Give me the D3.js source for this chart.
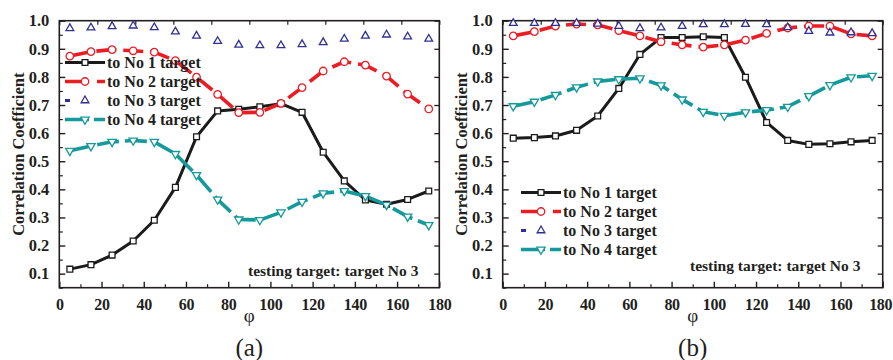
<!DOCTYPE html>
<html>
<head>
<meta charset="utf-8">
<script src="https://cdn.jsdelivr.net/npm/d3@7"></script>
<style>
  body { margin: 0; background: #fff; }
  svg { display: block; }
  text { font-family: "Liberation Serif", "Times New Roman", serif; fill: #231f20; }
</style>
</head>
<body>
<svg id="chart" width="893" height="360"></svg>
<script>
// Rotation angle (degrees) at which correlations were sampled
const phi = [5, 15, 25, 35, 45, 55, 65, 75, 85, 95, 105, 115, 125, 135, 145, 155, 165, 175];

// Panel (a)
const aTarget1 = [0.116, 0.132, 0.166, 0.216, 0.290, 0.407, 0.587, 0.679, 0.685, 0.694, 0.705, 0.674, 0.532, 0.430, 0.362, 0.347, 0.364, 0.394];
const aTarget2 = [0.874, 0.890, 0.897, 0.893, 0.888, 0.858, 0.799, 0.738, 0.673, 0.674, 0.706, 0.762, 0.821, 0.854, 0.842, 0.803, 0.739, 0.686];
const aTarget3 = [0.973, 0.975, 0.980, 0.982, 0.976, 0.961, 0.946, 0.927, 0.914, 0.912, 0.912, 0.916, 0.923, 0.935, 0.946, 0.950, 0.943, 0.935];
const aTarget4 = [0.537, 0.554, 0.569, 0.574, 0.569, 0.526, 0.451, 0.364, 0.293, 0.291, 0.318, 0.356, 0.386, 0.394, 0.376, 0.345, 0.303, 0.273];

// Panel (b)
const bTarget1 = [0.582, 0.584, 0.590, 0.610, 0.661, 0.759, 0.880, 0.940, 0.940, 0.943, 0.940, 0.799, 0.638, 0.574, 0.560, 0.562, 0.569, 0.574];
const bTarget2 = [0.946, 0.961, 0.981, 0.988, 0.985, 0.965, 0.946, 0.925, 0.914, 0.906, 0.914, 0.931, 0.955, 0.974, 0.981, 0.981, 0.953, 0.946];
const bTarget3 = [0.991, 0.991, 0.991, 0.991, 0.989, 0.981, 0.973, 0.975, 0.981, 0.987, 0.987, 0.988, 0.987, 0.976, 0.963, 0.957, 0.958, 0.955];
const bTarget4 = [0.696, 0.712, 0.736, 0.763, 0.784, 0.792, 0.795, 0.770, 0.720, 0.676, 0.662, 0.674, 0.682, 0.694, 0.732, 0.771, 0.799, 0.804];

const seriesNames = ["to No 1 target", "to No 2 target", "to No 3 target", "to No 4 target"];
const xTicks = [0, 20, 40, 60, 80, 100, 120, 140, 160, 180];
const yTicks = [0.1, 0.2, 0.3, 0.4, 0.5, 0.6, 0.7, 0.8, 0.9, 1.0];
const yTitle = "Correlation Coefficient";
const xTitle = "\u03c6";
const note = "testing target: target No 3";

const ink = "#231f20";
const serif = '"Liberation Serif", "Times New Roman", serif';
const styles = [
  { color: "#1b1b1b", width: 3, dash: null, symbol: d3.symbolSquare, size: 34, rot: 0, line: true },
  { color: "#ec1c24", width: 3.6, dash: "20,7", symbol: d3.symbolCircle, size: 44, rot: 0, line: true },
  { color: "#2e3192", width: 3, dash: null, symbol: d3.symbolTriangle, size: 26, rot: 0, line: false },
  { color: "#15999a", width: 3.6, dash: "22,6", symbol: d3.symbolTriangle, size: 30, rot: 180, line: true }
];

const svg = d3.select("#chart");

function drawPanel(cfg) {
  const g = svg.append("g");
  const x = d3.scaleLinear().domain([0, 180]).range([cfg.left, cfg.left + 380]);
  const y = d3.scaleLinear().domain([0.05, 1.0]).range([287.7, 20.7]);

  // frame
  g.append("rect")
    .attr("x", x(0)).attr("y", y(1.0))
    .attr("width", x(180) - x(0)).attr("height", y(0.05) - y(1.0))
    .attr("fill", "none").attr("stroke", ink).attr("stroke-width", 1.6);

  // bottom axis: major ticks every 20, minor every 10, pointing inward
  const bottom = g.append("g").attr("transform", `translate(0,${y(0.05)})`)
    .call(d3.axisBottom(x).tickValues(xTicks).tickSizeInner(-6).tickSizeOuter(0).tickPadding(11).tickFormat(d3.format("d")));
  bottom.select(".domain").remove();
  bottom.attr("font-family", serif);
  bottom.selectAll("line").attr("stroke", ink).attr("stroke-width", 1.4);
  bottom.selectAll("text").attr("font-size", "16px").attr("font-weight", "bold")
    .attr("letter-spacing", "-0.3px").attr("fill", ink)
    .attr("dx", d => (cfg.lastShift && d === 180) ? cfg.lastShift : 0);
  g.append("g").attr("transform", `translate(0,${y(0.05)})`)
    .call(d3.axisBottom(x).tickValues(d3.range(10, 180, 20)).tickSizeInner(-3.5).tickSizeOuter(0).tickFormat(""))
    .call(a => a.select(".domain").remove())
    .selectAll("line").attr("stroke", ink).attr("stroke-width", 1.2);

  // top axis: ticks every 18
  g.append("g").attr("transform", `translate(0,${y(1.0)})`)
    .call(d3.axisTop(x).tickValues(d3.range(0, 181, 18)).tickSizeInner(-4).tickSizeOuter(0).tickFormat(""))
    .call(a => a.select(".domain").remove())
    .selectAll("line").attr("stroke", ink).attr("stroke-width", 1.2);

  // left axis: major every 0.1, minor in between
  const left = g.append("g").attr("transform", `translate(${x(0)},0)`)
    .call(d3.axisLeft(y).tickValues(yTicks).tickSizeInner(-6).tickSizeOuter(0).tickPadding(10).tickFormat(d3.format(".1f")));
  left.select(".domain").remove();
  left.attr("font-family", serif);
  left.selectAll("line").attr("stroke", ink).attr("stroke-width", 1.4);
  left.selectAll("text").attr("font-size", "16.5px").attr("font-weight", "bold").attr("fill", ink);
  g.append("g").attr("transform", `translate(${x(0)},0)`)
    .call(d3.axisLeft(y).tickValues(yTicks.map(v => v - 0.05)).tickSizeInner(-3.5).tickSizeOuter(0).tickFormat(""))
    .call(a => a.select(".domain").remove())
    .selectAll("line").attr("stroke", ink).attr("stroke-width", 1.2);

  // right axis
  g.append("g").attr("transform", `translate(${x(180)},0)`)
    .call(d3.axisRight(y).tickValues(yTicks).tickSizeInner(-5).tickSizeOuter(0).tickFormat(""))
    .call(a => a.select(".domain").remove())
    .selectAll("line").attr("stroke", ink).attr("stroke-width", 1.3);

  // axis titles
  g.append("text")
    .attr("transform", `translate(${cfg.left - 35.5},${(y(0.05) + y(1.0)) / 2}) rotate(-90)`)
    .attr("text-anchor", "middle").attr("font-size", "16.5px").attr("font-weight", "bold")
    .text(yTitle);
  g.append("text")
    .attr("x", x(90)).attr("y", 322).attr("text-anchor", "middle")
    .attr("font-size", "19px").text(xTitle);
  g.append("text")
    .attr("x", x(90)).attr("y", 356).attr("text-anchor", "middle")
    .attr("font-size", "25px").text(cfg.tag);

  // data
  const line = d3.line().x((d, i) => x(phi[i])).y(d => y(d));
  cfg.series.forEach((vals, k) => {
    const s = styles[k];
    if (s.line) {
      g.append("path").datum(vals)
        .attr("d", line).attr("fill", "none")
        .attr("stroke", s.color).attr("stroke-width", s.width)
        .attr("stroke-dasharray", s.dash).attr("stroke-linejoin", "round");
    }
  });
  cfg.series.forEach((vals, k) => {
    const s = styles[k];
    g.append("g").selectAll("path").data(vals).join("path")
      .attr("d", d3.symbol(s.symbol, s.size))
      .attr("transform", (d, i) => `translate(${x(phi[i])},${y(d)}) rotate(${s.rot})`)
      .attr("fill", "#fff").attr("stroke", s.color).attr("stroke-width", 1.3);
  });

  // legend
  const lg = g.append("g");
  seriesNames.forEach((name, k) => {
    const s = styles[k];
    const ly = cfg.legendY + k * 19;
    const x0 = cfg.legendX, x1 = cfg.legendX + 40, xm = cfg.legendX + 20;
    if (s.line) {
      lg.append("line").attr("x1", x0).attr("x2", x1).attr("y1", ly).attr("y2", ly)
        .attr("stroke", s.color).attr("stroke-width", s.width)
        .attr("stroke-dasharray", k === 1 ? "24,8" : (k === 3 ? "24,5" : null));
    } else {
      lg.append("line").attr("x1", x0).attr("x2", x0 + 5).attr("y1", ly).attr("y2", ly)
        .attr("stroke", s.color).attr("stroke-width", s.width);
    }
    lg.append("path").attr("d", d3.symbol(s.symbol, s.size))
      .attr("transform", `translate(${xm},${ly}) rotate(${s.rot})`)
      .attr("fill", "#fff").attr("stroke", s.color).attr("stroke-width", 1.3);
    lg.append("text").attr("x", x1 + 2).attr("y", ly + 5.5)
      .attr("font-size", "16px").attr("font-weight", "bold").text(name);
  });

  g.append("text").attr("x", cfg.noteX).attr("y", cfg.noteY)
    .attr("font-size", "15.5px").attr("font-weight", "bold").text(note);
}

drawPanel({ left: 59.3, tag: "(a)", series: [aTarget1, aTarget2, aTarget3, aTarget4],
  legendX: 65, legendY: 62.5, noteX: 248, noteY: 276 });
drawPanel({ left: 502.7, tag: "(b)", series: [bTarget1, bTarget2, bTarget3, bTarget4],
  legendX: 521, legendY: 192.5, noteX: 690, noteY: 271, lastShift: -2.5 });
</script>
</body>
</html>
